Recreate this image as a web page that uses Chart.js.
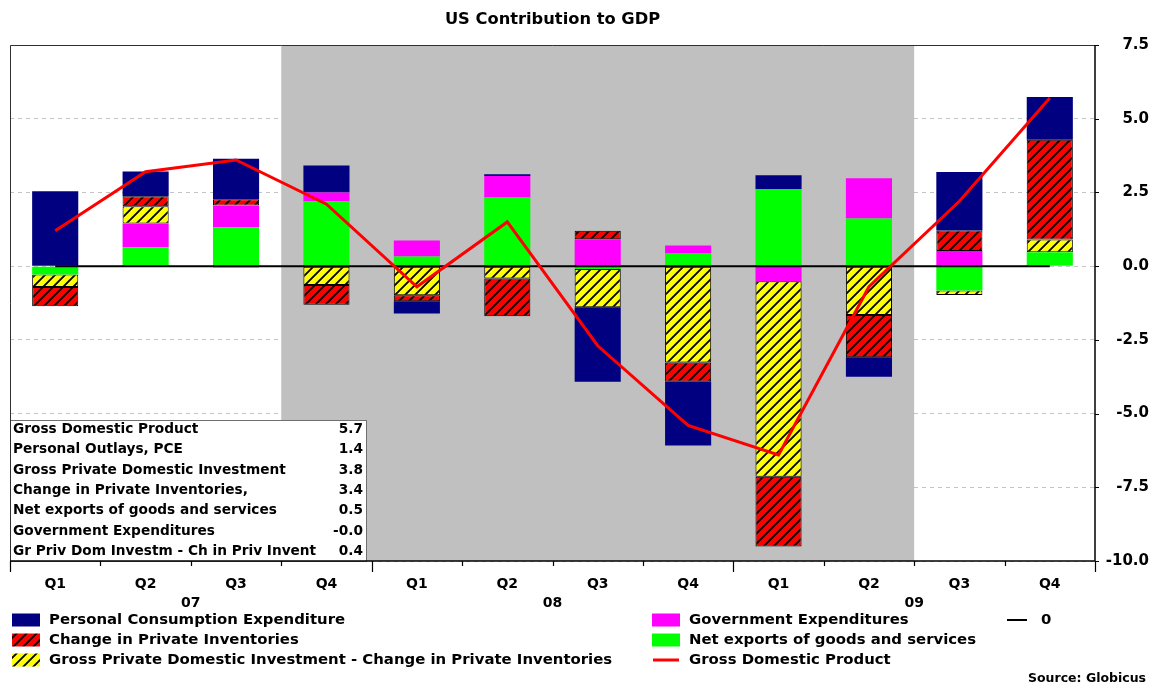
<!DOCTYPE html>
<html lang="en">
<head>
<meta charset="UTF-8">
<title>US Contribution to GDP</title>
<script src="https://cdn.jsdelivr.net/npm/chart.js"></script>
<style>
  html, body { margin: 0; padding: 0; background: #fff; }
  #wrap { width: 1154px; height: 685px; }
</style>
</head>
<body>
<div id="wrap"><canvas id="gdpChart" width="1154" height="685"></canvas></div>
<script>
// quarters 2007 Q1 .. 2009 Q4
const quarters = ['Q1','Q2','Q3','Q4','Q1','Q2','Q3','Q4','Q1','Q2','Q3','Q4'];
const years = ['07','08','09'];
const recessionFrom = 3;   // Q4 07
const recessionTo = 9;     // Q2 09

// contributions to GDP growth, percentage points
const netExports  = [-0.28, 0.64, 1.31, 2.20, 0.33, 2.33, -0.10, 0.43, 2.61, 1.62, -0.83, 0.47];
const government  = [0.00, 0.81, 0.75, 0.30, 0.54, 0.73, 0.91, 0.27, -0.51, 1.36, 0.51, -0.02];
const gpdiExInv   = [-0.43, 0.58, -0.05, -0.64, -0.99, -0.42, -1.29, -3.27, -6.63, -1.66, -0.15, 0.43];
const inventories = [-0.65, 0.34, 0.21, -0.67, -0.20, -1.28, 0.29, -0.64, -2.37, -1.43, 0.70, 3.39];
const consumption = [2.54, 0.84, 1.37, 0.91, -0.42, 0.06, -2.53, -2.17, 0.47, -0.66, 1.98, 1.45];
const gdp         = [1.2, 3.2, 3.6, 2.1, -0.7, 1.5, -2.7, -5.4, -6.4, -0.7, 2.2, 5.7];
const zeroLine    = [0, 0, 0, 0, 0, 0, 0, 0, 0, 0, 0, 0];

const yTicks = [7.5, 5.0, 2.5, 0.0, -2.5, -5.0, -7.5, -10.0];

// last quarter summary box
const tableLabels = ['Gross Domestic Product', 'Personal Outlays, PCE', 'Gross Private Domestic Investment',
  'Change in Private Inventories,', 'Net exports of goods and services', 'Government Expenditures',
  'Gr Priv Dom Investm - Ch in Priv Invent'];
const tableValues = ['5.7', '1.4', '3.8', '3.4', '0.5', '-0.0', '0.4'];

const FONT = '"DejaVu Sans", Verdana, sans-serif';

function hatch(bg) {
  const c = document.createElement('canvas');
  c.width = 10; c.height = 10;
  const g = c.getContext('2d');
  g.fillStyle = bg;
  g.fillRect(0, 0, 10, 10);
  g.strokeStyle = '#000';
  g.lineWidth = 1.8;
  g.beginPath();
  g.moveTo(-1, 11); g.lineTo(11, -1);
  g.moveTo(-1, 1); g.lineTo(1, -1);
  g.moveTo(9, 11); g.lineTo(11, 9);
  g.stroke();
  return g.createPattern(c, 'repeat');
}
const redHatch = hatch('#ff0000');
const yellowHatch = hatch('#ffff00');

const barBase = { type: 'bar', order: 2, barPercentage: 0.51, categoryPercentage: 1, borderSkipped: false };

const datasets = [
  { ...barBase, label: 'Net exports of goods and services', data: netExports, backgroundColor: '#00ff00', borderWidth: 0 },
  { ...barBase, label: 'Government Expenditures', data: government, backgroundColor: '#ff00ff', borderWidth: 0 },
  { ...barBase, label: 'Gross Private Domestic Investment - Change in Private Inventories', data: gpdiExInv,
    backgroundColor: yellowHatch, borderColor: '#000', borderWidth: 1 },
  { ...barBase, label: 'Change in Private Inventories', data: inventories,
    backgroundColor: redHatch, borderColor: '#000', borderWidth: 1 },
  { ...barBase, label: 'Personal Consumption Expenditure', data: consumption, backgroundColor: '#000080', borderWidth: 0 },
  { type: 'line', label: 'Gross Domestic Product', data: gdp, stack: 'gdp', order: 0,
    borderColor: '#ff0000', borderWidth: 3, pointRadius: 0, tension: 0, fill: false },
  { type: 'line', label: '0', data: zeroLine, stack: 'zero', order: 1,
    borderColor: '#000', borderWidth: 2, pointRadius: 0, fill: false }
];

// legend: [dataset index, column, row]
const legendSlots = [[4, 0, 0], [3, 0, 1], [2, 0, 2], [1, 1, 0], [0, 1, 1], [5, 1, 2], [6, 2, 0]];

const decor = {
  id: 'decor',
  beforeDatasetsDraw(chart) {
    const { ctx, chartArea: a, scales: { x } } = chart;
    const w = (a.right - a.left) / quarters.length;
    const x0 = x.getPixelForValue(recessionFrom) - w / 2;
    const x1 = x.getPixelForValue(recessionTo) + w / 2;
    ctx.save();
    ctx.fillStyle = '#c0c0c0';
    ctx.fillRect(x0, a.top, x1 - x0, a.bottom - a.top);
    ctx.restore();
  },
  afterDatasetsDraw(chart) {
    const { ctx, chartArea: a } = chart;
    // summary box
    const top = 420, right = 366;
    ctx.save();
    ctx.fillStyle = '#fff';
    ctx.fillRect(a.left, top, right - a.left, a.bottom - top);
    ctx.strokeStyle = '#707070';
    ctx.lineWidth = 1;
    ctx.strokeRect(a.left + 0.5, top + 0.5, right - a.left, a.bottom - top);
    ctx.fillStyle = '#000';
    ctx.font = 'bold 13.7px ' + FONT;
    ctx.textBaseline = 'middle';
    tableLabels.forEach((t, i) => {
      const y = top + 9.5 + i * 20.3;
      ctx.textAlign = 'left';
      ctx.fillText(t, a.left + 3, y);
      ctx.textAlign = 'right';
      ctx.fillText(tableValues[i], right - 3, y);
    });
    ctx.restore();
  },
  afterDraw(chart) {
    const { ctx, chartArea: a, scales: { x, y } } = chart;
    const w = (a.right - a.left) / quarters.length;
    ctx.save();
    // frame
    ctx.strokeStyle = '#303030';
    ctx.lineWidth = 1;
    ctx.beginPath();
    ctx.moveTo(a.left + 0.5, a.bottom);
    ctx.lineTo(a.left + 0.5, a.top + 0.5);
    ctx.lineTo(a.right, a.top + 0.5);
    ctx.stroke();
    ctx.strokeStyle = '#000';
    ctx.lineWidth = 1.5;
    ctx.beginPath();
    ctx.moveTo(a.left, a.bottom);
    ctx.lineTo(a.right, a.bottom);
    ctx.moveTo(a.right, a.bottom);
    ctx.lineTo(a.right, a.top);
    ctx.stroke();
    // y ticks
    ctx.lineWidth = 1;
    ctx.beginPath();
    yTicks.forEach(v => {
      const py = Math.round(y.getPixelForValue(v)) + 0.5;
      ctx.moveTo(a.right, py);
      ctx.lineTo(a.right + 4, py);
    });
    ctx.stroke();
    // x ticks
    ctx.lineWidth = 1.2;
    ctx.beginPath();
    for (let i = 0; i <= quarters.length; i++) {
      const px = Math.round(a.left + i * w) + 0.5;
      ctx.moveTo(px, a.bottom);
      ctx.lineTo(px, a.bottom + (i % 4 === 0 ? 11 : 5));
    }
    ctx.stroke();
    // year labels
    ctx.fillStyle = '#000';
    ctx.font = 'bold 14px ' + FONT;
    ctx.textAlign = 'center';
    ctx.textBaseline = 'middle';
    years.forEach((yr, k) => {
      const cx = (x.getPixelForValue(4 * k) + x.getPixelForValue(4 * k + 3)) / 2;
      ctx.fillText(yr, cx, 603);
    });
    // title
    ctx.font = 'bold 16.3px ' + FONT;
    ctx.fillText('US Contribution to GDP', (a.left + a.right) / 2, 20);
    // source
    ctx.font = 'bold 12.5px ' + FONT;
    ctx.textAlign = 'right';
    ctx.fillText('Source: Globicus', 1146, 679);
    // legend
    const colX = [12, 652, 1006];
    ctx.font = 'bold 14.9px ' + FONT;
    ctx.textAlign = 'left';
    legendSlots.forEach(([di, col, row]) => {
      const ds = chart.data.datasets[di];
      const lx = colX[col];
      const ly = 620 + row * 20;
      if (ds.type === 'line') {
        ctx.strokeStyle = ds.borderColor;
        ctx.lineWidth = ds.borderWidth;
        ctx.beginPath();
        ctx.moveTo(lx + 1, ly);
        ctx.lineTo(lx + (col === 2 ? 21 : 27), ly);
        ctx.stroke();
      } else {
        ctx.fillStyle = ds.backgroundColor;
        ctx.fillRect(lx, ly - 6.5, 28, 13);
      }
      ctx.fillStyle = '#000';
      ctx.fillText(ds.label, lx + (col === 2 ? 35 : 37), ly);
    });
    ctx.restore();
  }
};

new Chart(document.getElementById('gdpChart'), {
  data: { labels: quarters, datasets: datasets },
  options: {
    responsive: false,
    animation: false,
    layout: { padding: { left: 10, right: 5, top: 45, bottom: 0 } },
    plugins: { legend: { display: false }, title: { display: false }, tooltip: { enabled: false } },
    scales: {
      x: {
        stacked: true,
        offset: true,
        grid: { display: false, drawTicks: false },
        border: { display: false },
        ticks: { font: { family: FONT, size: 14, weight: 'bold' }, color: '#000', padding: 15,
                 maxRotation: 0, autoSkip: false },
        afterFit(s) { s.height = 124; }
      },
      y: {
        position: 'right',
        stacked: true,
        min: -10,
        max: 7.5,
        grid: { color: '#c4c4c4', drawTicks: false },
        border: { display: false, dash: [4, 4] },
        ticks: { stepSize: 2.5, callback: v => v.toFixed(1), font: { family: FONT, size: 15, weight: 'bold' },
                 color: '#000', crossAlign: 'far', padding: 10 },
        afterFit(s) { s.width = 54; }
      }
    }
  },
  plugins: [decor]
});
</script>
</body>
</html>
